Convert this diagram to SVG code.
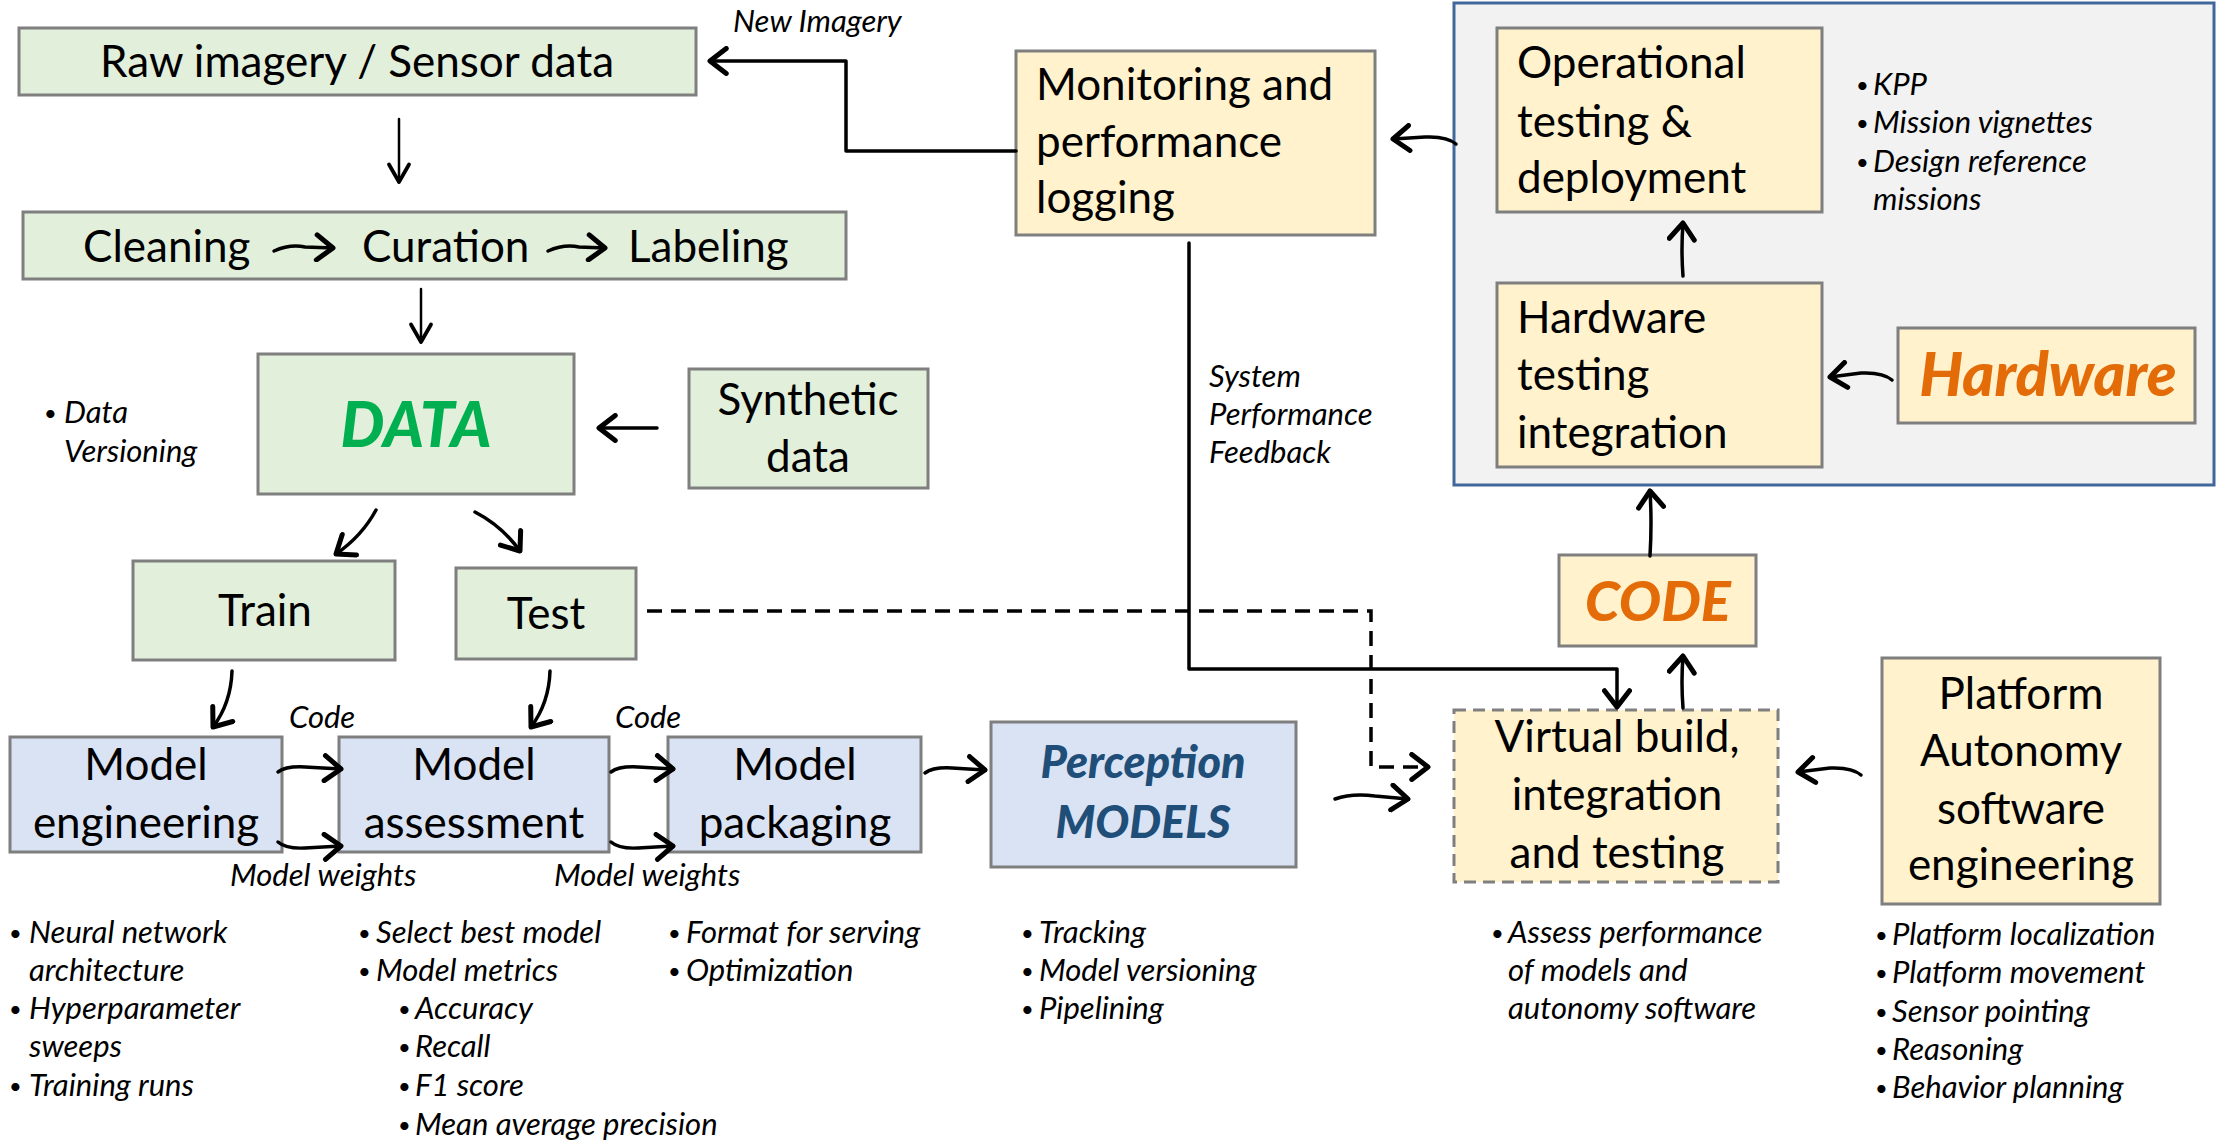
<svg xmlns="http://www.w3.org/2000/svg" width="2216" height="1140" viewBox="0 0 2216 1140">
<defs>
<marker id="ah" markerUnits="userSpaceOnUse" markerWidth="30" markerHeight="30" viewBox="-16 -12 20 24" refX="0" refY="0" orient="auto">
<path d="M-13,-10 L0,0 L-13,10" fill="none" stroke="#000" stroke-width="4" stroke-linecap="round" stroke-linejoin="round"/>
</marker>
<marker id="ahs" markerUnits="userSpaceOnUse" markerWidth="30" markerHeight="30" viewBox="-16 -12 20 24" refX="0" refY="0" orient="auto">
<path d="M-14,-8 L0,0 L-14,8" fill="none" stroke="#000" stroke-width="3" stroke-linecap="round" stroke-linejoin="round"/>
</marker>
</defs>
<style>
.g{fill:#E2EFDA;stroke:#7F7F7F;stroke-width:3}
.b{fill:#DAE3F3;stroke:#7F7F7F;stroke-width:3}
.y{fill:#FFF2CC;stroke:#7F7F7F;stroke-width:3}
.yd{fill:#FFF2CC;stroke:#7F7F7F;stroke-width:3;stroke-dasharray:12 7}
.ct{fill:#F2F2F2;stroke:#41689C;stroke-width:3}
.t{font-family:Lato,"Liberation Sans",sans-serif;font-size:44px;fill:#000}
.m{text-anchor:middle}
.i{font-family:Lato,"Liberation Sans",sans-serif;font-size:31px;font-style:italic;fill:#000}
.bu{font-family:Lato,"Liberation Sans",sans-serif;font-size:22px;fill:#000}
.big{font-family:Lato,"Liberation Sans",sans-serif;font-weight:900;font-style:italic;text-anchor:middle}
.c{fill:none;stroke:#000;stroke-width:3.5;stroke-linecap:round;stroke-linejoin:round}
.cs{fill:none;stroke:#000;stroke-width:2.5;stroke-linecap:round}
.d{fill:none;stroke:#000;stroke-width:3.5;stroke-dasharray:15 9}
</style>

<g id="container"><rect class="ct" x="1454" y="3" width="760" height="482"/></g>

<g id="raw"><rect class="g" x="19" y="28" width="677" height="67"/><text class="t m" x="357" y="77">Raw imagery / Sensor data</text></g>
<g id="cleaning"><rect class="g" x="23" y="212" width="823" height="67"/>
<text class="t" x="83" y="262">Cleaning</text><text class="t" x="362" y="262">Curation</text><text class="t" x="628" y="262">Labeling</text>
<path class="c" d="M274,251 Q290,244 305,247 L333,248" marker-end="url(#ah)"/>
<path class="c" d="M548,251 Q564,244 579,247 L605,248" marker-end="url(#ah)"/>
</g>
<g id="data"><rect class="g" x="258" y="354" width="316" height="140"/><text class="big" x="416" y="447" font-size="62" fill="#00B050">DATA</text></g>
<g id="synthetic"><rect class="g" x="689" y="369" width="239" height="119"/><text class="t m" x="808" y="415">Synthetic</text><text class="t m" x="808" y="472">data</text></g>
<g id="data-notes"><text class="bu" x="44" y="421">•</text><text class="i" x="64" y="423">Data</text><text class="i" x="64" y="462">Versioning</text></g>
<g id="train"><rect class="g" x="133" y="561" width="262" height="99"/><text class="t m" x="265" y="626">Train</text></g>
<g id="test"><rect class="g" x="456" y="568" width="180" height="91"/><text class="t m" x="546" y="629">Test</text></g>

<g id="model-engineering"><rect class="b" x="10" y="737" width="272" height="115"/><text class="t m" x="146" y="780">Model</text><text class="t m" x="146" y="838">engineering</text></g>
<g id="model-assessment"><rect class="b" x="339" y="737" width="270" height="115"/><text class="t m" x="474" y="780">Model</text><text class="t m" x="474" y="838">assessment</text></g>
<g id="model-packaging"><rect class="b" x="668" y="737" width="253" height="115"/><text class="t m" x="795" y="780">Model</text><text class="t m" x="795" y="838">packaging</text></g>
<g id="perception"><rect class="b" x="991" y="722" width="305" height="145"/><text class="big" x="1143" y="778" font-size="45" fill="#1F4E79">Perception</text><text class="big" x="1143" y="838" font-size="45" fill="#1F4E79">MODELS</text></g>

<g id="monitoring"><rect class="y" x="1016" y="51" width="359" height="184"/><text class="t" x="1036" y="100">Monitoring and</text><text class="t" x="1036" y="157">performance</text><text class="t" x="1036" y="213">logging</text></g>
<g id="operational"><rect class="y" x="1497" y="28" width="325" height="184"/><text class="t" x="1517" y="78">Operational</text><text class="t" x="1517" y="137">testing &amp;</text><text class="t" x="1517" y="193">deployment</text></g>
<g id="op-notes"><text class="bu" x="1856" y="93">•</text><text class="i" x="1873" y="95">KPP</text><text class="bu" x="1856" y="131">•</text><text class="i" x="1873" y="133">Mission vignettes</text><text class="bu" x="1856" y="170">•</text><text class="i" x="1873" y="172">Design reference</text><text class="i" x="1873" y="210">missions</text></g>
<g id="hw-testing"><rect class="y" x="1497" y="283" width="325" height="184"/><text class="t" x="1517" y="333">Hardware</text><text class="t" x="1517" y="390">testing</text><text class="t" x="1517" y="448">integration</text></g>
<g id="hardware"><rect class="y" x="1898" y="328" width="297" height="95"/><text class="big" x="2048" y="396" font-size="61" fill="#E36C09">Hardware</text></g>
<g id="code"><rect class="y" x="1559" y="555" width="197" height="91"/><text class="big" x="1658" y="621" font-size="56" fill="#E36C09">CODE</text></g>
<g id="virtual-build"><rect class="yd" x="1454" y="710" width="324" height="172"/><text class="t m" x="1617" y="752">Virtual build,</text><text class="t m" x="1617" y="810">integration</text><text class="t m" x="1617" y="868">and testing</text></g>
<g id="platform"><rect class="y" x="1882" y="658" width="278" height="246"/><text class="t m" x="2021" y="709">Platform</text><text class="t m" x="2021" y="766">Autonomy</text><text class="t m" x="2021" y="824">software</text><text class="t m" x="2021" y="880">engineering</text></g>

<g id="labels">
<text class="i" x="733" y="32">New Imagery</text>
<text class="i" x="1209" y="387">System</text><text class="i" x="1209" y="425">Performance</text><text class="i" x="1209" y="463">Feedback</text>
<text class="i" x="289" y="728">Code</text><text class="i" x="615" y="728">Code</text>
<text class="i" x="230" y="886">Model weights</text><text class="i" x="554" y="886">Model weights</text>
</g>

<g id="notes">
<text class="bu" x="9" y="941">•</text><text class="i" x="29" y="943">Neural network</text><text class="i" x="29" y="981">architecture</text>
<text class="bu" x="9" y="1017">•</text><text class="i" x="29" y="1019">Hyperparameter</text><text class="i" x="29" y="1057">sweeps</text>
<text class="bu" x="9" y="1094">•</text><text class="i" x="29" y="1096">Training runs</text>
<text class="bu" x="358" y="941">•</text><text class="i" x="376" y="943">Select best model</text>
<text class="bu" x="358" y="979">•</text><text class="i" x="376" y="981">Model metrics</text>
<text class="bu" x="398" y="1017">•</text><text class="i" x="415" y="1019">Accuracy</text>
<text class="bu" x="398" y="1055">•</text><text class="i" x="415" y="1057">Recall</text>
<text class="bu" x="398" y="1094">•</text><text class="i" x="415" y="1096">F1 score</text>
<text class="bu" x="398" y="1133">•</text><text class="i" x="415" y="1135">Mean average precision</text>
<text class="bu" x="668" y="941">•</text><text class="i" x="686" y="943">Format for serving</text>
<text class="bu" x="668" y="979">•</text><text class="i" x="686" y="981">Optimization</text>
<text class="bu" x="1021" y="941">•</text><text class="i" x="1039" y="943">Tracking</text>
<text class="bu" x="1021" y="979">•</text><text class="i" x="1039" y="981">Model versioning</text>
<text class="bu" x="1021" y="1017">•</text><text class="i" x="1039" y="1019">Pipelining</text>
<text class="bu" x="1491" y="941">•</text><text class="i" x="1508" y="943">Assess performance</text><text class="i" x="1508" y="981">of models and</text><text class="i" x="1508" y="1019">autonomy software</text>
<text class="bu" x="1875" y="943">•</text><text class="i" x="1892" y="945">Platform localization</text>
<text class="bu" x="1875" y="981">•</text><text class="i" x="1892" y="983">Platform movement</text>
<text class="bu" x="1875" y="1020">•</text><text class="i" x="1892" y="1022">Sensor pointing</text>
<text class="bu" x="1875" y="1058">•</text><text class="i" x="1892" y="1060">Reasoning</text>
<text class="bu" x="1875" y="1096">•</text><text class="i" x="1892" y="1098">Behavior planning</text>
</g>

<g id="connectors">
<path class="c" d="M1016,151 H846 V61 H710" marker-end="url(#ah)"/>
<path class="cs" d="M399,119 V182" marker-end="url(#ahs)"/>
<path class="cs" d="M421,289 V342" marker-end="url(#ahs)"/>
<path class="c" d="M657,428 H599" marker-end="url(#ah)"/>
<path class="c" d="M376,510 Q362,536 336,554" marker-end="url(#ah)"/>
<path class="c" d="M475,512 Q502,526 520,551" marker-end="url(#ah)"/>
<path class="c" d="M232,671 Q231,703 213,727" marker-end="url(#ah)"/>
<path class="c" d="M550,671 Q549,703 531,727" marker-end="url(#ah)"/>
<path class="c" d="M278,772 Q286,766 305,767 L341,769" marker-end="url(#ah)"/>
<path class="c" d="M278,842 Q286,849 305,848 L341,846" marker-end="url(#ah)"/>
<path class="c" d="M611,772 Q619,766 638,767 L673,769" marker-end="url(#ah)"/>
<path class="c" d="M611,842 Q619,849 638,848 L673,846" marker-end="url(#ah)"/>
<path class="c" d="M925,773 Q933,767 952,768 L985,770" marker-end="url(#ah)"/>
<path class="d" d="M647,611 H1371 V767 H1428" marker-end="url(#ah)"/>
<path class="c" d="M1189,243 V669 H1617 V707" marker-end="url(#ah)"/>
<path class="c" d="M1335,799 Q1352,793 1375,796 L1408,799" marker-end="url(#ah)"/>
<path class="c" d="M1683,708 Q1681,682 1683,656" marker-end="url(#ah)"/>
<path class="c" d="M1650,556 Q1652,522 1650,491" marker-end="url(#ah)"/>
<path class="c" d="M1861,775 Q1852,767 1830,768 L1798,772" marker-end="url(#ah)"/>
<path class="c" d="M1683,276 Q1681,250 1683,223" marker-end="url(#ah)"/>
<path class="c" d="M1892,380 Q1883,372 1861,373 L1830,377" marker-end="url(#ah)"/>
<path class="c" d="M1456,144 Q1447,136 1425,137 L1393,139" marker-end="url(#ah)"/>
</g>
</svg>
